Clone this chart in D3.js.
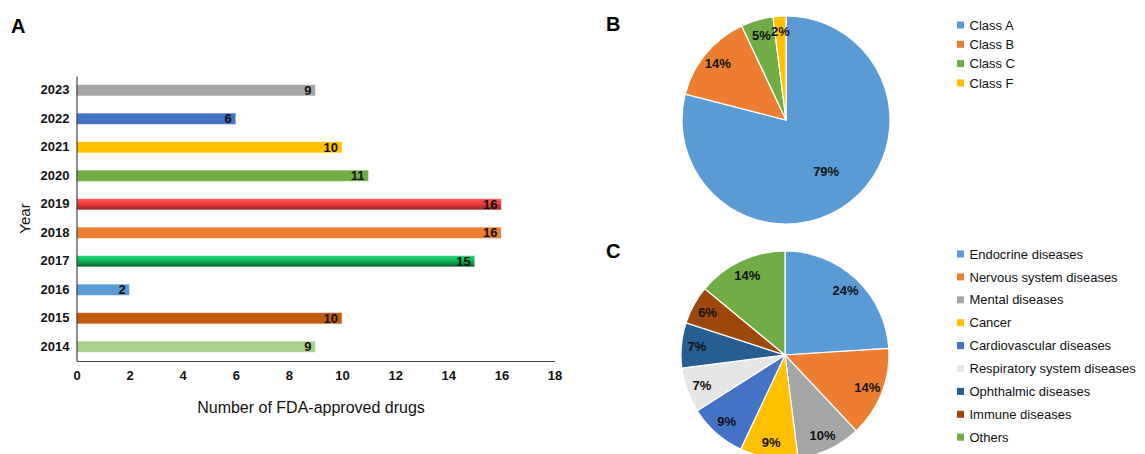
<!DOCTYPE html>
<html>
<head>
<meta charset="utf-8">
<script src="https://cdn.jsdelivr.net/npm/d3@7"></script>
<style>
  html, body { margin: 0; padding: 0; background: #fff; }
  svg { display: block; font-family: "Liberation Sans", Arial, Helvetica, sans-serif; }
</style>
</head>
<body>
<svg id="chart" width="1145" height="454"></svg>
<script>
// ---------- Data ----------
const years = ["2014", "2015", "2016", "2017", "2018", "2019", "2020", "2021", "2022", "2023"];
const approvals = [9, 10, 2, 15, 16, 16, 11, 10, 6, 9];
const xTickValues = [0, 2, 4, 6, 8, 10, 12, 14, 16, 18];

const classLabels = ["Class A", "Class B", "Class C", "Class F"];
const classShares = [79, 14, 5, 2];

const diseaseLabels = ["Endocrine diseases", "Nervous system diseases", "Mental diseases", "Cancer",
  "Cardiovascular diseases", "Respiratory system diseases", "Ophthalmic diseases", "Immune diseases", "Others"];
const diseaseShares = [24, 14, 10, 9, 9, 7, 7, 6, 14];

// ---------- Styles ----------
const barColors = ["#A9D18E", "#C55A11", "#5B9BD5", "url(#gradGreen)", "#ED7D31", "url(#gradRed)",
  "#70AD47", "#FFC000", "#4472C4", "#A5A5A5"];
const classColors = ["#5B9BD5", "#ED7D31", "#70AD47", "#FFC000"];
const diseaseColors = ["#5B9BD5", "#ED7D31", "#A5A5A5", "#FFC000", "#4472C4", "#E7E6E6", "#255E91", "#9E480E", "#70AD47"];

const svg = d3.select("#chart");
const defs = svg.append("defs");
function grad(id, stops) {
  const g = defs.append("linearGradient").attr("id", id).attr("x1", 0).attr("y1", 0).attr("x2", 0).attr("y2", 1);
  stops.forEach(([o, c]) => g.append("stop").attr("offset", o).attr("stop-color", c));
}
grad("gradRed", [["0%", "#FF5A5A"], ["45%", "#EE3B3B"], ["100%", "#8E2424"]]);
grad("gradGreen", [["0%", "#22D677"], ["45%", "#12B455"], ["100%", "#07602E"]]);

// ---------- Panel labels ----------
const panelLabels = [["A", 11, 33], ["B", 606, 31], ["C", 606, 258]];
svg.selectAll("text.panel").data(panelLabels).join("text")
  .attr("class", "panel")
  .attr("x", d => d[1]).attr("y", d => d[2])
  .attr("font-size", 20).attr("font-weight", "bold").attr("fill", "#000")
  .text(d => d[0]);

// ---------- Panel A: horizontal bar chart ----------
const plotLeft = 76.5, plotRight = 554.5, plotTop = 76, plotBottom = 361;
const x = d3.scaleLinear().domain([0, 18]).range([plotLeft, plotRight]);
const y = d3.scaleBand().domain(years.slice().reverse()).range([plotTop, plotBottom])
  .paddingInner(0.6).paddingOuter(0.3);

const barData = years.map((yr, i) => ({ year: yr, value: approvals[i], color: barColors[i] }));

const gA = svg.append("g");
gA.selectAll("rect.bar").data(barData).join("rect")
  .attr("class", "bar")
  .attr("x", x(0))
  .attr("y", d => y(d.year))
  .attr("width", d => x(d.value) - x(0))
  .attr("height", y.bandwidth())
  .attr("fill", d => d.color)
  .attr("stroke", "#ffffff").attr("stroke-opacity", 0.55).attr("stroke-width", 1);

gA.selectAll("text.val").data(barData).join("text")
  .attr("class", "val")
  .attr("x", d => x(d.value) - 4)
  .attr("y", d => y(d.year) + y.bandwidth() / 2)
  .attr("dy", "0.36em")
  .attr("text-anchor", "end")
  .attr("font-size", 13).attr("font-weight", "bold").attr("fill", "#111")
  .text(d => d.value);

const yAxis = gA.append("g")
  .attr("transform", `translate(${plotLeft},0)`)
  .call(d3.axisLeft(y).tickSize(0).tickPadding(7));
yAxis.select(".domain").attr("stroke", "#444").attr("stroke-width", 1.2);
yAxis.selectAll("text").attr("font-size", 13).attr("font-weight", "bold").attr("fill", "#111")
  .attr("font-family", "'Liberation Sans', Arial, sans-serif");

const xAxis = gA.append("g")
  .attr("transform", `translate(0,${plotBottom})`)
  .call(d3.axisBottom(x).tickValues(xTickValues).tickSize(0).tickPadding(10).tickFormat(d3.format("d")));
xAxis.select(".domain").attr("stroke", "#444").attr("stroke-width", 1.2);
xAxis.selectAll("text").attr("font-size", 13).attr("font-weight", "bold").attr("fill", "#111")
  .attr("font-family", "'Liberation Sans', Arial, sans-serif");

gA.append("text")
  .attr("x", 311).attr("y", 413)
  .attr("text-anchor", "middle")
  .attr("font-size", 16).attr("fill", "#111")
  .text("Number of FDA-approved drugs");

gA.append("text")
  .attr("transform", `translate(30,${(plotTop + plotBottom) / 2}) rotate(-90)`)
  .attr("text-anchor", "middle")
  .attr("font-size", 15).attr("fill", "#111")
  .text("Year");

// ---------- Pie helper ----------
function drawPie(cx, cy, r, labels, shares, colors, legendX, legendY, legendStep) {
  const data = labels.map((l, i) => ({ label: l, value: shares[i], color: colors[i] }));
  const total = d3.sum(shares);
  const pie = d3.pie().sort(null).value(d => d.value);
  const arcs = pie(data);
  const arc = d3.arc().innerRadius(0).outerRadius(r);
  const g = svg.append("g").attr("transform", `translate(${cx},${cy})`);
  g.selectAll("path").data(arcs).join("path")
    .attr("d", arc)
    .attr("fill", d => d.data.color)
    .attr("stroke", "#fff").attr("stroke-width", 1.2);
  g.selectAll("text").data(arcs).join("text")
    .attr("transform", d => {
      const frac = d.data.value / total;
      const lr = frac > 0.5 ? r * 0.63 : r * 0.85;
      const a = (d.startAngle + d.endAngle) / 2;
      return `translate(${Math.sin(a) * lr},${-Math.cos(a) * lr})`;
    })
    .attr("text-anchor", "middle").attr("dy", "0.36em")
    .attr("font-size", 13).attr("font-weight", "bold").attr("fill", "#111")
    .text(d => d.data.value + "%");

  const lg = svg.append("g");
  const rows = lg.selectAll("g").data(data).join("g")
    .attr("transform", (d, i) => `translate(${legendX},${legendY + i * legendStep})`);
  rows.append("rect").attr("x", 0).attr("y", -3.5).attr("width", 7).attr("height", 7)
    .attr("fill", d => d.color);
  rows.append("text").attr("x", 12.5).attr("dy", "0.36em")
    .attr("font-size", 13).attr("fill", "#111")
    .text(d => d.label);
}

drawPie(786, 120, 104, classLabels, classShares, classColors, 957, 25, 19.3);
drawPie(785, 355, 104, diseaseLabels, diseaseShares, diseaseColors, 957, 254, 22.9);
</script>
</body>
</html>
